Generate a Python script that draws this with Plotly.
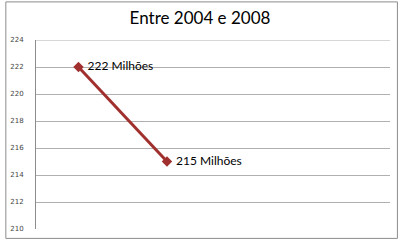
import plotly.graph_objects as go

x_pos = [1, 2]
values = [222, 215]
labels = ["222 Milhões", "215 Milhões"]
y_ticks = [210, 212, 214, 216, 218, 220, 222, 224]

W, H = 400, 243
L, R, T, B = 32, 10, 40, 12
pw, ph = W - L - R, H - T - B

def px2x(p):
    return (p - L) / pw

def py2y(p):
    return 1 - (p - T) / ph

fig = go.Figure()
fig.add_trace(go.Scatter(
    x=x_pos, y=values, mode="lines+markers+text",
    line=dict(color="#a0302e", width=3),
    marker=dict(symbol="diamond", size=8, color="#a0302e"),
    text=[" " + t for t in labels], textposition="middle right",
    textfont=dict(family="Lato, Open Sans, sans-serif", size=12, color="#000000"),
    cliponaxis=False, hoverinfo="skip"))

fig.update_layout(
    width=W, height=H,
    margin=dict(l=L, r=R, t=T, b=B),
    paper_bgcolor="white", plot_bgcolor="white",
    showlegend=False,
    title=dict(text="Entre 2004 e 2008", x=0.5, xanchor="center", y=1 - 18 / H, yanchor="middle",
               font=dict(family="Lato, Open Sans, sans-serif", size=17, color="#000000")),
    xaxis=dict(range=[0.52, 4.52], showticklabels=False, showgrid=False, zeroline=False,
               showline=False, ticks=""),
    yaxis=dict(range=[210, 224], tickvals=y_ticks, showgrid=True, gridcolor="#b0b0b0", gridwidth=1,
               zeroline=False, showline=True, linecolor="#8c8c8c", linewidth=1,
               ticks="", ticklabelstandoff=10,
               tickfont=dict(family="DejaVu Sans, sans-serif", size=7, color="#444444")),
    shapes=[dict(type="rect", xref="paper", yref="paper",
                 x0=px2x(1.5), x1=px2x(397.5), y0=py2y(240.5), y1=py2y(1.5),
                 line=dict(color="#8c8c8c", width=1), layer="below"),
            dict(type="line", xref="paper", yref="y", x0=0, x1=1, y0=y_ticks[-1], y1=y_ticks[-1],
                 line=dict(color="#b0b0b0", width=1), layer="below")],
)

fig.write_html("out.html")
